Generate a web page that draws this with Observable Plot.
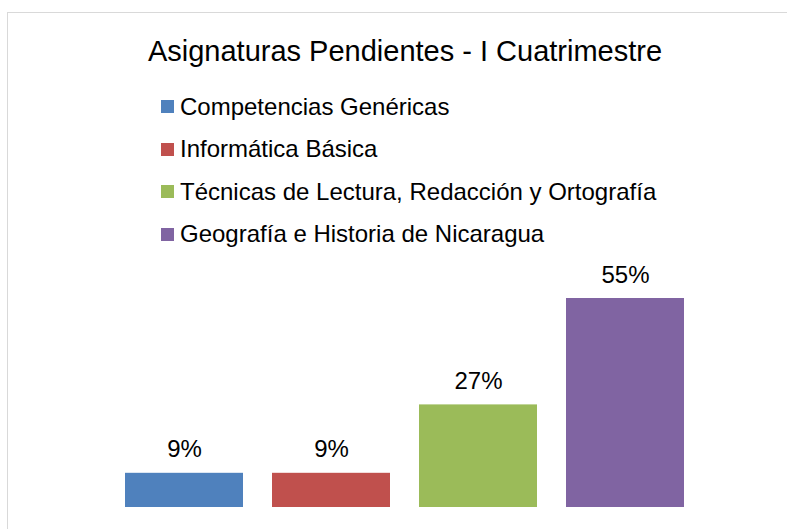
<!DOCTYPE html>
<html>
<head>
<meta charset="utf-8">
<script src="https://cdn.jsdelivr.net/npm/d3@7"></script>
<script src="https://cdn.jsdelivr.net/npm/@observablehq/plot@0.6"></script>
<style>
  html, body { margin: 0; padding: 0; background: #fff; }
  body { font-family: "Liberation Sans", Arial, sans-serif; color: #000; }
  #wrap { position: relative; width: 787px; height: 529px; overflow: hidden; }
  #frame { position: absolute; left: 7px; top: 12px; width: 800px; height: 540px;
           border-top: 1.5px solid #d9d9d9; border-left: 1.5px solid #d9d9d9; box-sizing: border-box; }
  #header { position: relative; height: 258px; }
  #title { position: absolute; left: 0; top: 36.5px; width: 810px; text-align: center;
           font-size: 29px; line-height: 29px; white-space: nowrap; }
  #legend { position: absolute; left: 161px; top: 85.2px; }
  .row { display: flex; align-items: center; height: 42.67px; font-size: 24px; line-height: 24px; white-space: nowrap; }
  .sw { width: 13px; height: 13px; margin-right: 6px; flex: none; }
  #chart { position: relative; display: block; }
</style>
</head>
<body>
<div id="wrap">
  <div id="frame"></div>
  <div id="header">
    <div id="title"></div>
    <div id="legend"></div>
  </div>
  <div id="chart"></div>
</div>
<script>
const title = "Asignaturas Pendientes - I Cuatrimestre";
const categories = [
  "Competencias Genéricas",
  "Informática Básica",
  "Técnicas de Lectura, Redacción y Ortografía",
  "Geografía e Historia de Nicaragua"
];
const values = [9, 9, 27, 55];
const labels = ["9%", "9%", "27%", "55%"];
const colors = ["#4F81BD", "#C0504D", "#9BBB59", "#8064A2"];

document.getElementById("title").textContent = title;
const legend = document.getElementById("legend");
categories.forEach((c, i) => {
  const row = document.createElement("div");
  row.className = "row";
  const sw = document.createElement("span");
  sw.className = "sw";
  sw.style.background = colors[i];
  const t = document.createElement("span");
  t.textContent = c;
  row.appendChild(sw);
  row.appendChild(t);
  legend.appendChild(row);
});

const data = categories.map((c, i) => ({category: c, value: values[i], label: labels[i]}));

const chart = Plot.plot({
  width: 787,
  height: 271,
  marginLeft: 110,
  marginRight: 89,
  marginTop: 21,
  marginBottom: 22,
  style: {fontFamily: "Liberation Sans, Arial, sans-serif", background: "transparent"},
  x: {domain: categories, paddingInner: 0.2, paddingOuter: 0.1, axis: null},
  y: {domain: [0, 60], axis: null},
  color: {domain: categories, range: colors},
  marks: [
    Plot.barY(data, {x: "category", y: "value", fill: "category"}),
    Plot.text(data, {x: "category", y: "value", text: "label", dy: -23.5,
      lineAnchor: "middle", fontSize: 24, fill: "#000"})
  ]
});
document.getElementById("chart").appendChild(chart);
</script>
</body>
</html>
